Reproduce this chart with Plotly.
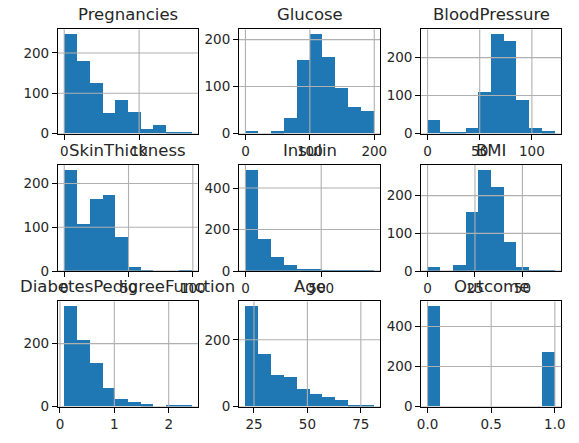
import numpy as np
import plotly.graph_objects as go

# ---- data (histogram counts, 10 bins each) ----
columns = ["Pregnancies", "Glucose", "BloodPressure",
           "SkinThickness", "Insulin", "BMI",
           "DiabetesPedigreeFunction", "Age", "Outcome"]

pregnancies_counts = [246, 178, 125, 50, 83, 52, 11, 19, 3, 1]
glucose_counts = [5, 0, 4, 32, 156, 211, 163, 95, 56, 46]
bloodpressure_counts = [35, 1, 2, 13, 107, 261, 243, 87, 14, 5]
skinthickness_counts = [231, 107, 165, 175, 78, 9, 2, 0, 0, 1]
insulin_counts = [487, 155, 70, 30, 8, 9, 5, 1, 2, 1]
bmi_counts = [11, 0, 15, 156, 268, 224, 78, 12, 3, 1]
dpf_counts = [318, 209, 137, 59, 21, 13, 6, 0, 3, 2]
age_counts = [300, 157, 92, 86, 52, 36, 27, 17, 3, 1]
outcome_counts = [500, 0, 0, 0, 0, 0, 0, 0, 0, 268]

# value range of each column (min, max) -> bin edges
value_min = [0, 0, 0, 0, 0, 0, 0.078, 21, 0]
value_max = [17, 199, 122, 99, 846, 67.1, 2.42, 81, 1]

x_tick_values = [[0, 10], [0, 100, 200], [0, 50, 100],
                 [0, 50, 100], [0, 500], [0, 25, 50],
                 [0, 1, 2], [25, 50, 75], [0, 0.5, 1.0]]
x_tick_labels = [["0", "10"], ["0", "100", "200"], ["0", "50", "100"],
                 ["0", "50", "100"], ["0", "500"], ["0", "25", "50"],
                 ["0", "1", "2"], ["25", "50", "75"], ["0.0", "0.5", "1.0"]]
y_tick_values = [[0, 100, 200], [0, 100, 200], [0, 100, 200],
                 [0, 100, 200], [0, 200, 400], [0, 100, 200],
                 [0, 200], [0, 200], [0, 200, 400]]

all_counts = [pregnancies_counts, glucose_counts, bloodpressure_counts,
              skinthickness_counts, insulin_counts, bmi_counts,
              dpf_counts, age_counts, outcome_counts]

# ---- layout (pixels) ----
W, H = 579, 443
col_px = [(55, 198), (240, 384), (426, 569)]
row_px = [(30, 136), (168, 276), (307, 414)]

BAR = "#1f77b4"
GRID = "#b0b0b0"
TXT = "#262626"
FONT = "DejaVu Sans"

fig = go.Figure()
layout = dict(
    width=W, height=H, margin=dict(l=0, r=0, t=0, b=0),
    paper_bgcolor="white", plot_bgcolor="white",
    showlegend=False, bargap=0,
    font=dict(family=FONT, size=13.5, color=TXT),
)
annotations = []
shapes = []

for i, name in enumerate(columns):
    r, c = divmod(i, 3)
    ax = "" if i == 0 else str(i + 1)
    counts = all_counts[i]
    edges = np.linspace(value_min[i], value_max[i], len(counts) + 1)
    centers = (edges[:-1] + edges[1:]) / 2
    width = edges[1] - edges[0]
    fig.add_trace(go.Bar(
        x=centers, y=counts, width=[width] * len(counts),
        marker=dict(color=BAR, line=dict(width=0)),
        xaxis="x" + ax, yaxis="y" + ax, hoverinfo="x+y",
    ))
    span = value_max[i] - value_min[i]
    xr = [value_min[i] - 0.05 * span, value_max[i] + 0.05 * span]
    yr = [0, max(counts) * 1.05]
    x0, x1 = col_px[c]
    y0, y1 = row_px[r]
    common = dict(
        showgrid=False, zeroline=False, showline=True, mirror=True,
        linecolor="black", linewidth=1, ticks="outside", ticklen=5,
        tickwidth=1, tickcolor="black", layer="above traces",
        tickfont=dict(family=FONT, size=13.5, color=TXT), fixedrange=True,
    )
    layout["xaxis" + ax] = dict(
        domain=[x0 / W, x1 / W], range=xr, anchor="y" + ax,
        tickmode="array", tickvals=x_tick_values[i],
        ticktext=x_tick_labels[i], **common)
    layout["yaxis" + ax] = dict(
        domain=[1 - y1 / H, 1 - y0 / H], range=yr, anchor="x" + ax,
        tickmode="array", tickvals=y_tick_values[i], **common)
    # grid lines drawn above bars (matplotlib style)
    for tv in x_tick_values[i]:
        shapes.append(dict(type="line", xref="x" + ax, yref="y" + ax + " domain",
                           x0=tv, x1=tv, y0=0, y1=1, layer="above",
                           line=dict(color=GRID, width=1.1)))
    for tv in y_tick_values[i]:
        shapes.append(dict(type="line", xref="x" + ax + " domain", yref="y" + ax,
                           x0=0, x1=1, y0=tv, y1=tv, layer="above",
                           line=dict(color=GRID, width=1.1)))
    annotations.append(dict(
        text=name, xref="paper", yref="paper",
        x=(x0 + x1) / 2 / W, y=1 - y0 / H, xanchor="center", yanchor="bottom",
        yshift=3, showarrow=False,
        font=dict(family=FONT, size=16.5, color=TXT)))

layout["annotations"] = annotations
layout["shapes"] = shapes
fig.update_layout(**layout)
fig.write_html("out.html", config={"displayModeBar": False})
